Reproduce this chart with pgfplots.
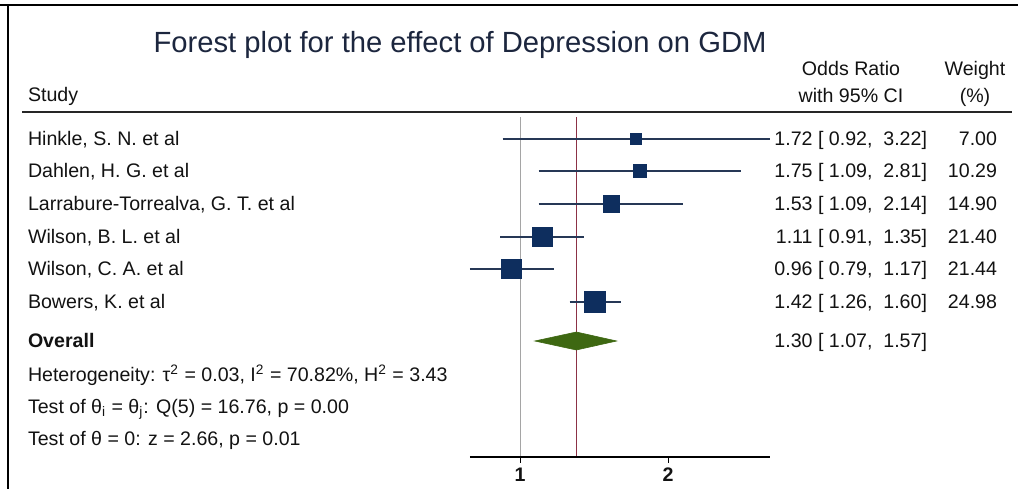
\documentclass[border=0pt]{standalone}
\usepackage{pgfplots}
\pgfplotsset{compat=1.18}
\usepackage{pgfplotstable}
\usepackage{fontspec}
\setmainfont{Liberation Sans}
\definecolor{sqnavy}{RGB}{14,46,94}
\definecolor{cinavy}{RGB}{38,56,86}
\definecolor{diagreen}{RGB}{62,104,18}
\definecolor{refgray}{RGB}{165,165,165}
\definecolor{ovred}{RGB}{140,50,70}
\definecolor{txt}{RGB}{18,18,18}
\definecolor{ttl}{RGB}{28,38,62}

% study estimates: OR, lower, upper, weight (%), row position
\pgfplotstableread{
or   lo   hi   w     y
1.72 0.92 3.22 7.00  350
1.75 1.09 2.81 10.29 318
1.53 1.09 2.14 14.90 285
1.11 0.91 1.35 21.40 252
0.96 0.79 1.17 21.44 220
1.42 1.26 1.60 24.98 187
}\studies

\newcommand\rowfont{\fontsize{9.8}{11}\selectfont}

\begin{document}
\begin{tikzpicture}
\useasboundingbox (0,0) rectangle (509pt,244.5pt);
\begin{axis}[
  at={(0,0)}, anchor=south west,
  scale only axis, width=509pt, height=244.5pt,
  xmode=log, log basis x=2,
  xmin=0.0874, xmax=10.29, ymin=0, ymax=489,
  hide axis, clip=false,
]
% reference lines
\addplot[refgray, line width=0.7pt] coordinates {(1,372) (1,32)};
\addplot[ovred, line width=0.7pt] coordinates {(1.30,372) (1.30,32)};
% confidence intervals
\addplot[cinavy, line width=0.65pt] coordinates {(0.92,350) (3.22,350)};
\addplot[cinavy, line width=0.65pt] coordinates {(1.09,318) (2.81,318)};
\addplot[cinavy, line width=0.65pt] coordinates {(1.09,285) (2.14,285)};
\addplot[cinavy, line width=0.65pt] coordinates {(0.91,252) (1.35,252)};
\addplot[cinavy, line width=0.65pt] coordinates {(0.79,220) (1.17,220)};
\addplot[cinavy, line width=0.65pt] coordinates {(1.26,187) (1.60,187)};
% point estimates, sized by weight
\addplot[only marks, mark=square*,
  scatter,
  scatter/use mapped color={draw=sqnavy, fill=sqnavy},
  visualization depends on={1.05*sqrt(\thisrow{w}) \as \ms},
  scatter/@pre marker code/.append style={/tikz/mark size=\ms},
] table[x=or, y=y] {\studies};
% overall diamond
\addplot[fill=diagreen, draw=diagreen, line width=0.3pt]
  coordinates {(1.07,148) (1.30,157) (1.57,148) (1.30,139)} -- cycle;
% x axis
\addplot[black, line width=0.7pt] coordinates {(0.79,32) (3.22,32)};
\draw[black, line width=0.7pt] (axis cs:1,32) -- (axis cs:1,26);
\draw[black, line width=0.7pt] (axis cs:2,32) -- (axis cs:2,26);
\end{axis}

\begin{scope}[x=0.5pt, y=-0.5pt, shift={(0pt,244.5pt)}, every node/.style={inner sep=0pt, outer sep=0pt, text=txt, font=\rowfont}]
% frame
\draw[black, line width=1.2pt] (0,5) -- (1018,5);
\draw[black, line width=1.2pt] (8,5) -- (8,489);
% header rule
\draw[black!85, line width=0.9pt] (22,112) -- (1012,112);
% title
\node[anchor=base, text=ttl, font=\fontsize{14.6}{17}\selectfont] at (460,52.5) {Forest plot for the effect of Depression on GDM};
% headers
\node[anchor=base west] at (28,101.5) {Study};
\node[anchor=base] at (851,75) {Odds Ratio};
\node[anchor=base] at (851,102) {with 95\% CI};
\node[anchor=base] at (975,75) {Weight};
\node[anchor=base] at (975,102) {(\%)};
% study names
\node[anchor=base west] at (28,145.5) {Hinkle, S. N. et al};
\node[anchor=base west] at (28,177.5) {Dahlen, H. G. et al};
\node[anchor=base west] at (28,210.5) {Larrabure-Torrealva, G. T. et al};
\node[anchor=base west] at (28,243.5) {Wilson, B. L. et al};
\node[anchor=base west] at (28,275.5) {Wilson, C. A. et al};
\node[anchor=base west] at (28,308.5) {Bowers, K. et al};
\node[anchor=base west, font=\rowfont\bfseries] at (28,347.5) {Overall};
% estimates
\node[anchor=base east] at (927,145.5) {1.72 [ 0.92, \ 3.22]};
\node[anchor=base east] at (927,177.5) {1.75 [ 1.09, \ 2.81]};
\node[anchor=base east] at (927,210.5) {1.53 [ 1.09, \ 2.14]};
\node[anchor=base east] at (927,243.5) {1.11 [ 0.91, \ 1.35]};
\node[anchor=base east] at (927,275.5) {0.96 [ 0.79, \ 1.17]};
\node[anchor=base east] at (927,308.5) {1.42 [ 1.26, \ 1.60]};
\node[anchor=base east] at (927,347.5) {1.30 [ 1.07, \ 1.57]};
% weights
\node[anchor=base east] at (997,145.5) {7.00};
\node[anchor=base east] at (997,177.5) {10.29};
\node[anchor=base east] at (997,210.5) {14.90};
\node[anchor=base east] at (997,243.5) {21.40};
\node[anchor=base east] at (997,275.5) {21.44};
\node[anchor=base east] at (997,308.5) {24.98};
% heterogeneity and tests
\node[anchor=base west] at (28,381.5) {Heterogeneity: τ\textsuperscript{2} = 0.03, I\textsuperscript{2} = 70.82\%, H\textsuperscript{2} = 3.43};
\node[anchor=base west] at (28,413.5) {Test of θ\textsubscript{i} = θ\textsubscript{j}: Q(5) = 16.76, p = 0.00};
\node[anchor=base west] at (28,445.5) {Test of θ = 0: z = 2.66, p = 0.01};
% tick labels
\node[anchor=base, font=\rowfont\bfseries] at (520,481) {1};
\node[anchor=base, font=\rowfont\bfseries] at (668,481) {2};
\end{scope}
\end{tikzpicture}
\end{document}
